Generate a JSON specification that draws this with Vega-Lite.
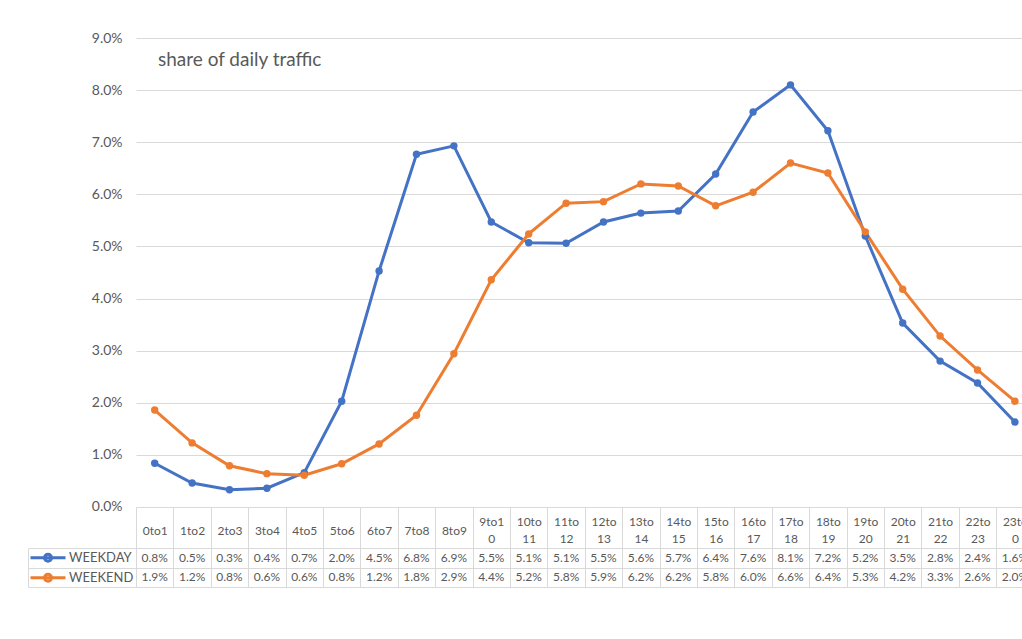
{
  "$schema": "https://vega.github.io/schema/vega-lite/v6.json",
  "padding": {"left": 27, "top": 31, "right": 0, "bottom": 0},
  "background": "white",
  "config": {"font": "Lato", "view": {"stroke": null}},
  "bounds": "flush",
  "spacing": 41,
  "resolve": {"scale": {"x": "shared", "color": "shared"}, "legend": {"color": "independent"}},
  "data": {"values": [
    {"hour": "0to1", "series": "WEEKDAY", "value": 0.0084},
    {"hour": "1to2", "series": "WEEKDAY", "value": 0.0046},
    {"hour": "2to3", "series": "WEEKDAY", "value": 0.0033},
    {"hour": "3to4", "series": "WEEKDAY", "value": 0.0036},
    {"hour": "4to5", "series": "WEEKDAY", "value": 0.0066},
    {"hour": "5to6", "series": "WEEKDAY", "value": 0.0203},
    {"hour": "6to7", "series": "WEEKDAY", "value": 0.0453},
    {"hour": "7to8", "series": "WEEKDAY", "value": 0.0677},
    {"hour": "8to9", "series": "WEEKDAY", "value": 0.0693},
    {"hour": "9to10", "series": "WEEKDAY", "value": 0.0547},
    {"hour": "10to11", "series": "WEEKDAY", "value": 0.0507},
    {"hour": "11to12", "series": "WEEKDAY", "value": 0.0506},
    {"hour": "12to13", "series": "WEEKDAY", "value": 0.0547},
    {"hour": "13to14", "series": "WEEKDAY", "value": 0.0564},
    {"hour": "14to15", "series": "WEEKDAY", "value": 0.0568},
    {"hour": "15to16", "series": "WEEKDAY", "value": 0.0639},
    {"hour": "16to17", "series": "WEEKDAY", "value": 0.0758},
    {"hour": "17to18", "series": "WEEKDAY", "value": 0.0810},
    {"hour": "18to19", "series": "WEEKDAY", "value": 0.0722},
    {"hour": "19to20", "series": "WEEKDAY", "value": 0.0520},
    {"hour": "20to21", "series": "WEEKDAY", "value": 0.0353},
    {"hour": "21to22", "series": "WEEKDAY", "value": 0.0280},
    {"hour": "22to23", "series": "WEEKDAY", "value": 0.0238},
    {"hour": "23to0", "series": "WEEKDAY", "value": 0.0163},
    {"hour": "0to1", "series": "WEEKEND", "value": 0.0186},
    {"hour": "1to2", "series": "WEEKEND", "value": 0.0123},
    {"hour": "2to3", "series": "WEEKEND", "value": 0.0079},
    {"hour": "3to4", "series": "WEEKEND", "value": 0.0064},
    {"hour": "4to5", "series": "WEEKEND", "value": 0.0061},
    {"hour": "5to6", "series": "WEEKEND", "value": 0.0083},
    {"hour": "6to7", "series": "WEEKEND", "value": 0.0121},
    {"hour": "7to8", "series": "WEEKEND", "value": 0.0176},
    {"hour": "8to9", "series": "WEEKEND", "value": 0.0294},
    {"hour": "9to10", "series": "WEEKEND", "value": 0.0436},
    {"hour": "10to11", "series": "WEEKEND", "value": 0.0524},
    {"hour": "11to12", "series": "WEEKEND", "value": 0.0583},
    {"hour": "12to13", "series": "WEEKEND", "value": 0.0586},
    {"hour": "13to14", "series": "WEEKEND", "value": 0.0620},
    {"hour": "14to15", "series": "WEEKEND", "value": 0.0616},
    {"hour": "15to16", "series": "WEEKEND", "value": 0.0578},
    {"hour": "16to17", "series": "WEEKEND", "value": 0.0604},
    {"hour": "17to18", "series": "WEEKEND", "value": 0.0660},
    {"hour": "18to19", "series": "WEEKEND", "value": 0.0641},
    {"hour": "19to20", "series": "WEEKEND", "value": 0.0528},
    {"hour": "20to21", "series": "WEEKEND", "value": 0.0418},
    {"hour": "21to22", "series": "WEEKEND", "value": 0.0328},
    {"hour": "22to23", "series": "WEEKEND", "value": 0.0263},
    {"hour": "23to0", "series": "WEEKEND", "value": 0.0203}
  ]},
  "vconcat": [
    {
      "width": 897.6,
      "height": 469,
      "title": {"text": "share of daily traffic", "anchor": "start", "frame": "group", "dx": 22, "offset": -48, "baseline": "middle", "fontSize": 19, "fontWeight": "normal", "color": "#595959", "font": "Lato"},
      "encoding": {
        "x": {"field": "hour", "type": "ordinal", "bandPosition": 0.5,
          "scale": {"type": "band", "domain": ["0to1","1to2","2to3","3to4","4to5","5to6","6to7","7to8","8to9","9to10","10to11","11to12","12to13","13to14","14to15","15to16","16to17","17to18","18to19","19to20","20to21","21to22","22to23","23to0"], "paddingInner": 0, "paddingOuter": 0},
          "axis": null},
        "y": {"field": "value", "type": "quantitative",
          "scale": {"domain": [0, 0.09], "nice": false},
          "axis": {"values": [0, 0.01, 0.02, 0.03, 0.04, 0.05, 0.06, 0.07, 0.08, 0.09], "format": ".1%", "title": null, "domain": false, "ticks": false, "labelPadding": 14, "labelFontSize": 14, "labelColor": "#595959", "gridColor": "#d9d9d9", "gridWidth": 1}},
        "color": {"field": "series", "type": "nominal", "scale": {"domain": ["WEEKDAY", "WEEKEND"], "range": ["#4472C4", "#ED7D31"]}, "legend": null}
      },
      "layer": [
        {"mark": {"type": "line", "strokeWidth": 3}},
        {"mark": {"type": "point", "filled": true, "size": 55, "opacity": 1}}
      ]
    },
    {
      "width": 897.6,
      "height": 39,
      "encoding": {
        "x": {"field": "hour", "type": "ordinal", "bandPosition": 0.5,
          "scale": {"type": "band", "domain": ["0to1","1to2","2to3","3to4","4to5","5to6","6to7","7to8","8to9","9to10","10to11","11to12","12to13","13to14","14to15","15to16","16to17","17to18","18to19","19to20","20to21","21to22","22to23","23to0"], "paddingInner": 0, "paddingOuter": 0},
          "axis": {"orient": "top", "title": null, "tickBand": "extent", "tickSize": 41, "tickColor": "#d9d9d9", "domain": false, "labelAngle": 0, "labelBaseline": "middle",
            "labelPadding": -15,
            "labelOverlap": false, "labelLineHeight": 8.5, "labelExpr": "length(datum.label) > 4 ? [substring(datum.label, 0, 4), '\u2800', substring(datum.label, 4)] : ['\u2800', datum.label, '\u2800']", "labelFontSize": 12, "labelColor": "#595959", "grid": true, "gridColor": "#d9d9d9"}},
        "y": {"field": "series", "type": "nominal", "bandPosition": 0.5,
          "scale": {"type": "band", "domain": ["WEEKDAY", "WEEKEND"], "paddingInner": 0, "paddingOuter": 0},
          "axis": {"title": null, "labels": false, "tickBand": "extent", "tickSize": -108, "offset": 108, "tickColor": "#d9d9d9", "domainColor": "#d9d9d9", "grid": true, "gridColor": "#d9d9d9"}}
      },
      "layer": [
        {"mark": {"type": "text", "fontSize": 12, "color": "#595959", "baseline": "middle", "align": "center"},
         "encoding": {"text": {"field": "value", "type": "quantitative", "format": ".1%"}}},
        {"mark": {"type": "point", "opacity": 0},
         "encoding": {"color": {"field": "series", "type": "nominal",
           "legend": {"orient": "none", "legendX": -107, "legendY": 0, "title": null,
             "symbolType": "M-1,0L1,0M0.2,0A0.2,0.2,0,1,1,-0.2,0A0.2,0.2,0,1,1,0.2,0Z",
             "symbolSize": 1225, "symbolStrokeWidth": 3, "symbolOpacity": 1,
             "clipHeight": 19.5, "rowPadding": 0, "padding": 0, "labelOffset": 2,
             "labelFontSize": 13, "labelColor": "#595959", "labelFont": "Lato",
             "encode": {"symbols": {"update": {"fill": {"field": "value", "scale": "color"}}}}}}}}
      ]
    }
  ]
}
